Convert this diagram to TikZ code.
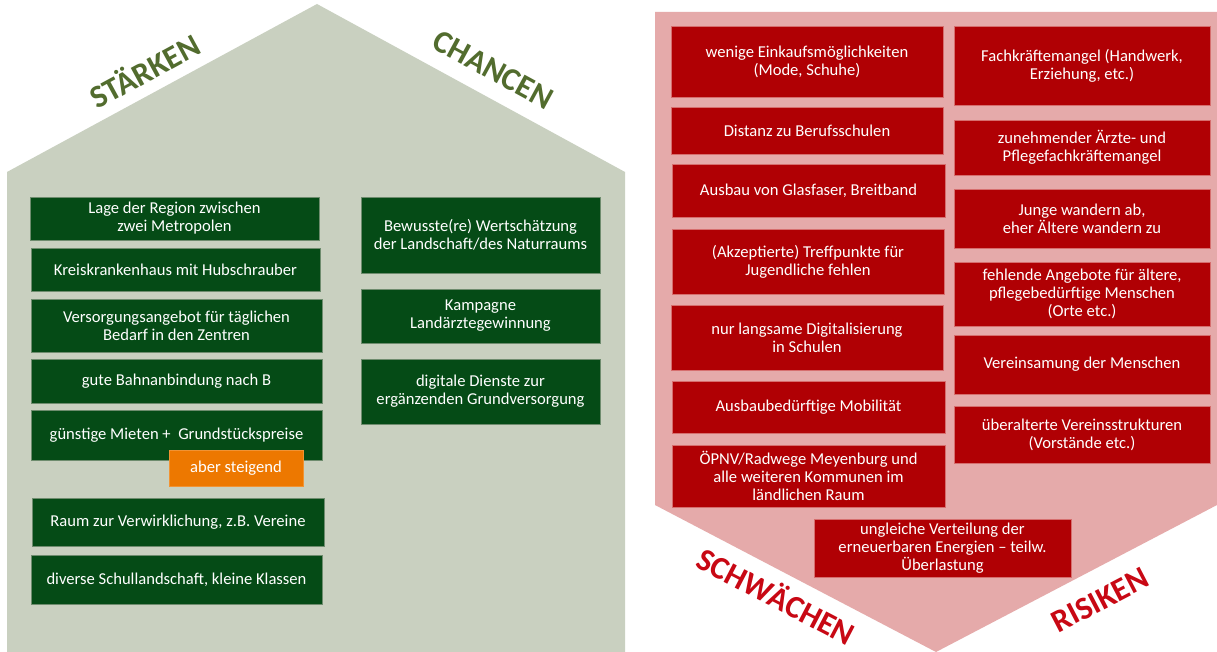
\documentclass[tikz,border=0pt]{standalone}
\usepackage{fontspec}
\setmainfont{Carlito}
\definecolor{housegray}{RGB}{201,208,192}
\definecolor{boxgreen}{RGB}{5,75,22}
\definecolor{gline}{RGB}{110,140,110}
\definecolor{labgreen}{RGB}{82,108,46}
\definecolor{pinkbg}{RGB}{229,170,170}
\definecolor{boxred}{RGB}{176,0,4}
\definecolor{rline}{RGB}{214,110,110}
\definecolor{labred}{RGB}{200,8,20}
\definecolor{orangebox}{RGB}{237,120,0}
\begin{document}
\begin{tikzpicture}[x=1pt,y=-1pt,
  boxtext/.style={text=white, align=center, inner sep=0pt,
    font=\fontsize{16.6}{18}\selectfont},
  gbox/.style={boxtext, fill=boxgreen, draw=gline, line width=0.7pt},
  rbox/.style={boxtext, fill=boxred, draw=rline, line width=0.7pt},
  obox/.style={boxtext, fill=orangebox, draw=orangebox!80!white, line width=0.7pt},
  bigg/.style={text=labgreen, font=\fontsize{32}{36}\selectfont\bfseries, inner sep=0pt},
  bigr/.style={text=labred, font=\fontsize{32}{36}\selectfont\bfseries, inner sep=0pt}]
\useasboundingbox (0,0) rectangle (1217,652);
\fill[white] (0,0) rectangle (1217,652);
% houses
\fill[housegray] (7,652) -- (7,172) -- (317,4) -- (625,172) -- (625,652) -- cycle;
\fill[pinkbg] (655,12) -- (1217,12) -- (1217,505) -- (936,652) -- (655,505) -- cycle;
% labels
\node[bigg, rotate=28.5] (st) at (144,70) {STÄRKEN};
\node[bigg, rotate=-28.5] (ch) at (493,70) {CHANCEN};
\node[bigr, rotate=-27.5] (sw) at (777,595) {SCHWÄCHEN};
\node[bigr, rotate=27.5] (ri) at (1100,600) {RISIKEN};
% Staerken
\node[gbox, minimum width=289pt, minimum height=43pt] (l1) at (174.5,218.5) {Lage der Region zwischen\\zwei Metropolen};
\node[gbox, minimum width=289pt, minimum height=43pt] (l2) at (175.5,269.5) {Kreiskrankenhaus mit Hubschrauber};
\node[gbox, minimum width=291pt, minimum height=53pt] (l3) at (176.5,325.5) {Versorgungsangebot für täglichen\\Bedarf in den Zentren};
\node[gbox, minimum width=291pt, minimum height=44pt] (l4) at (176.5,381) {gute Bahnanbindung nach B};
\node[gbox, minimum width=291pt, minimum height=50pt] (l5) at (176.5,435) {günstige Mieten +~ Grundstückspreise};
\node[obox, minimum width=134pt, minimum height=36pt] (o1) at (236,468) {aber steigend};
\node[gbox, minimum width=292pt, minimum height=48pt] (l6) at (178,522) {Raum zur Verwirklichung, z.B. Vereine};
\node[gbox, minimum width=291pt, minimum height=49pt] (l7) at (176.5,579.5) {diverse Schullandschaft, kleine Klassen};
% Chancen
\node[gbox, minimum width=239pt, minimum height=76pt] (c1) at (480.5,235) {Bewusste(re) Wertschätzung\\der Landschaft/des Naturraums};
\node[gbox, minimum width=239pt, minimum height=54pt] (c2) at (480.5,316) {Kampagne\\Landärztegewinnung};
\node[gbox, minimum width=239pt, minimum height=65pt] (c3) at (480.5,391.5) {digitale Dienste zur\\ergänzenden Grundversorgung};
% Schwaechen
\node[rbox, minimum width=272pt, minimum height=71pt] (w1) at (807,61.5) {wenige Einkaufsmöglichkeiten\\(Mode, Schuhe)};
\node[rbox, minimum width=272pt, minimum height=47pt] (w2) at (807,130.5) {Distanz zu Berufsschulen};
\node[rbox, minimum width=273pt, minimum height=53pt] (w3) at (808.5,190.5) {Ausbau von Glasfaser, Breitband};
\node[rbox, minimum width=272pt, minimum height=65pt] (w4) at (808,261.5) {(Akzeptierte) Treffpunkte für\\Jugendliche fehlen};
\node[rbox, minimum width=272pt, minimum height=65pt] (w5) at (807,337.5) {nur langsame Digitalisierung\\in Schulen};
\node[rbox, minimum width=273pt, minimum height=52pt] (w6) at (808.5,407) {Ausbaubedürftige Mobilität};
\node[rbox, minimum width=273pt, minimum height=62pt] (w7) at (808.5,476) {ÖPNV/Radwege Meyenburg und\\alle weiteren Kommunen im\\ländlichen Raum};
\node[rbox, minimum width=257pt, minimum height=58pt] (w8) at (942.5,548) {ungleiche Verteilung der\\erneuerbaren Energien – teilw.\\Überlastung};
% Risiken
\node[rbox, minimum width=256pt, minimum height=79pt] (r1) at (1082,65.5) {Fachkräftemangel (Handwerk,\\Erziehung, etc.)};
\node[rbox, minimum width=256pt, minimum height=55pt] (r2) at (1082,147.5) {zunehmender Ärzte- und\\Pflegefachkräftemangel};
\node[rbox, minimum width=256pt, minimum height=59pt] (r3) at (1082,218.5) {Junge wandern ab,\\eher Ältere wandern zu};
\node[rbox, minimum width=256pt, minimum height=64pt] (r4) at (1082,294) {fehlende Angebote für ältere,\\pflegebedürftige Menschen\\(Orte etc.)};
\node[rbox, minimum width=256pt, minimum height=59pt] (r5) at (1082,364.5) {Vereinsamung der Menschen};
\node[rbox, minimum width=256pt, minimum height=57pt] (r6) at (1082,434.5) {überalterte Vereinsstrukturen\\(Vorstände etc.)};
\end{tikzpicture}
\end{document}
